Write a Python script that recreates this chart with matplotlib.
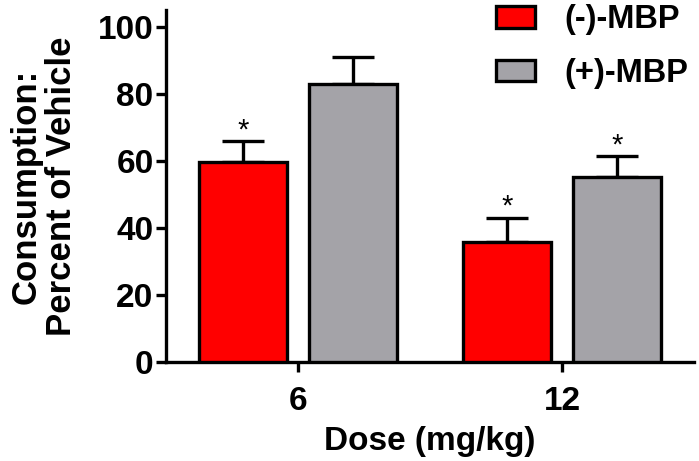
import matplotlib

matplotlib.use("Agg")
import matplotlib.pyplot as plt
import numpy as np

# data
doses = ["6", "12"]
minus_mean = [59.6, 35.7]
minus_sem = [6.4, 7.4]
plus_mean = [82.9, 55.1]
plus_sem = [8.0, 6.3]
minus_sig = [True, True]
plus_sig = [False, True]

RED = "#FF0000"
GRAY = "#A4A3A8"

plt.rcParams["font.family"] = ["Liberation Sans", "DejaVu Sans"]
plt.rcParams["font.weight"] = "bold"

fig = plt.figure(figsize=(6.99, 4.61), dpi=100)
ax = fig.add_axes([166 / 699, 1 - 362 / 461, (694 - 166) / 699, (362 - 10) / 461])

x = np.arange(len(doses))
w = 0.333
off = 0.208
lw = 2.4

for xs, means, sems, sig, col, lab in [
    (x - off, minus_mean, minus_sem, minus_sig, RED, "(-)-MBP"),
    (x + off, plus_mean, plus_sem, plus_sig, GRAY, "(+)-MBP"),
]:
    ax.bar(xs, means, w, color=col, edgecolor="black", linewidth=lw, label=lab, zorder=3)
    ax.errorbar(xs, means, yerr=[np.zeros(len(sems)), sems], fmt="none", ecolor="black",
                elinewidth=lw, capsize=15, capthick=lw, zorder=2)
    for xi, m, s, flag in zip(xs, means, sems, sig):
        if flag:
            ax.text(xi, m + s - 1.0, "*", ha="center", va="bottom", fontsize=21, fontweight="normal")

ax.set_xlim(-0.5, 1.5)
ax.set_ylim(0, 105)
ax.set_yticks([0, 20, 40, 60, 80, 100])
ax.set_xticks(x)
ax.set_xticklabels(doses)
ax.spines["top"].set_visible(False)
ax.spines["right"].set_visible(False)
for s in ["left", "bottom"]:
    ax.spines[s].set_linewidth(lw)
ax.tick_params(axis="both", width=lw, length=7, labelsize=24, pad=2)
ax.tick_params(axis="x", pad=10)
ax.set_ylabel("Consumption:\nPercent of Vehicle", fontsize=25, fontweight="bold", labelpad=14,
              linespacing=1.12)
ax.set_xlabel("Dose (mg/kg)", fontsize=24, fontweight="bold", labelpad=7)

leg = ax.legend(loc="upper right", bbox_to_anchor=(1.045, 1.1), frameon=False, fontsize=23.5,
                handlelength=1.2, handleheight=0.65, labelspacing=0.7, handletextpad=0.9)

fig.savefig("out.png", dpi=100)
